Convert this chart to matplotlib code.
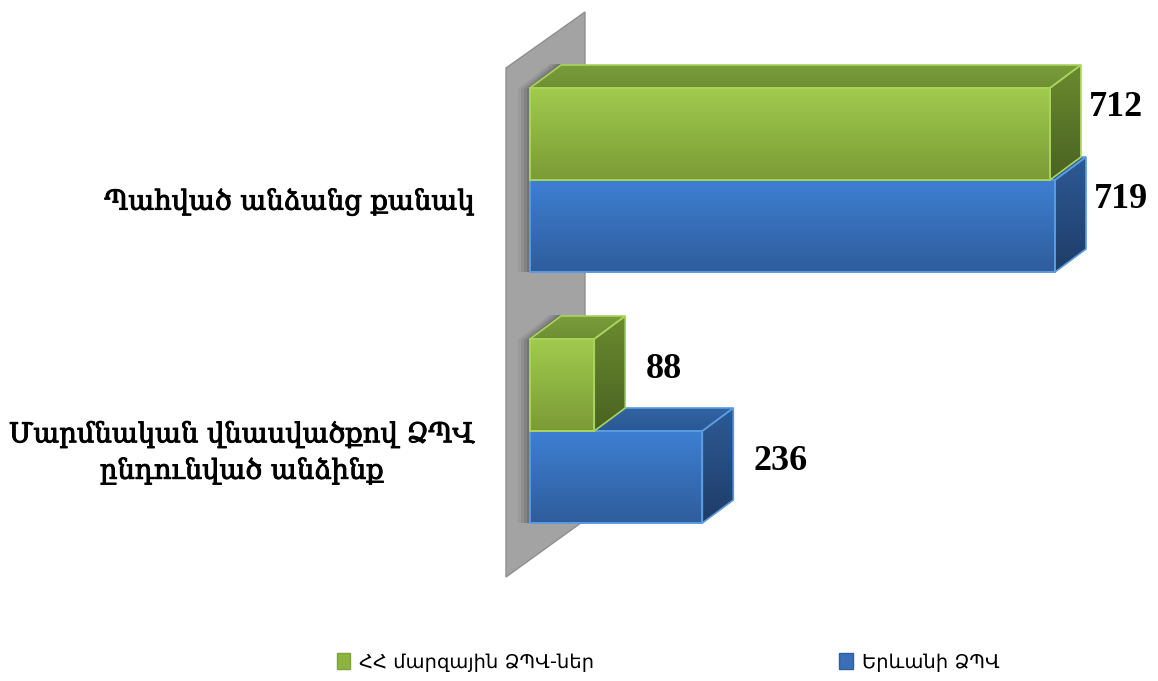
import numpy as np
import matplotlib.pyplot as plt
import matplotlib.patheffects as pe
from matplotlib.patches import Polygon, Patch
from matplotlib.colors import LinearSegmentedColormap

categories = ["Պահված անձանց քանակ", "Մարմնական վնասվածքով ՁՊՎ\nընդունված անձինք"]
series_names = ["ՀՀ մարզային ՁՊՎ-ներ", "Երևանի ՁՊՎ"]
regional = [712, 88]
yerevan = [719, 236]

W, H = 1158, 681
fig = plt.figure(figsize=(W / 100, H / 100), dpi=100)
ax = fig.add_axes([0, 0, 1, 1])

# x in data units, y in screen-like units (0 at top)
px = 525 / 719.0          # pixels per unit on x
x0 = 530                  # pixel where value 0 sits
ax.set_xlim(-x0 / px, (W - x0) / px)
ax.set_ylim(H, 0)
ax.axis("off")

dx = 31 / px              # depth offset in x units
dy = 23                   # depth offset in y units
bar_h = 92
centers = [180, 431]      # boundary between the two bars of a group
label_shift = [-26, -15]
label_gap = [8, 20]

def grad(c_top, c_bot):
    return LinearSegmentedColormap.from_list("g", [c_top, c_bot])

def face(poly_pts, c_top, c_bot, z, edge):
    pts = np.array(poly_pts)
    poly = Polygon(pts, closed=True, facecolor="none", edgecolor=edge, lw=1.2, zorder=z + 0.5)
    ax.add_patch(poly)
    img = np.linspace(0, 1, 64).reshape(-1, 1)
    im = ax.imshow(img, cmap=grad(c_top, c_bot), aspect="auto", origin="upper",
                   extent=[pts[:, 0].min(), pts[:, 0].max(), pts[:, 1].max(), pts[:, 1].min()],
                   zorder=z, interpolation="bilinear")
    im.set_clip_path(Polygon(pts, closed=True, transform=ax.transData))

# back wall
wl = -24 / px
wall = Polygon([(wl, 68), (wl + 79 / px, 12), (wl + 79 / px, 520), (wl, 577)],
               closed=True, facecolor="#a3a3a3", edgecolor="#8f8f8f", lw=1, zorder=1)
ax.add_patch(wall)

# soft shadows of the bars on the wall
for c in centers:
    top = c - bar_h - dy
    bot = c + bar_h
    for k, a in zip([12, 9, 6, 3], [0.07, 0.09, 0.12, 0.16]):
        sh = Polygon([(-k / px, top + dy + 1), (dx - k / px, top - 1),
                      (dx, top - 1), (dx, bot - dy), (0, bot), (-k / px, bot)],
                     closed=True, facecolor="#2a2a2a", edgecolor="none", alpha=a, zorder=1.5)
        ax.add_patch(sh)

styles = {
    "green": dict(front=("#a0cb4d", "#7b9b36"), side=("#6a8a2e", "#4a6322"),
                  top=("#7a9c3a", "#6f8f33"), edge="#a9d45c"),
    "blue": dict(front=("#3e7fd2", "#2e5d9c"), side=("#2d5a94", "#1f3d68"),
                 top=("#3163a3", "#2b5895"), edge="#5b9be0"),
}

def draw_bar(v, yt, yb, st, z):
    s = styles[st]
    ax.barh((yt + yb) / 2, v, height=yb - yt, left=0, color="none",
            edgecolor=s["edge"], lw=1.2, zorder=z + 0.6)
    face([(0, yt), (v, yt), (v, yb), (0, yb)], *s["front"], z, s["edge"])
    face([(v, yt), (v + dx, yt - dy), (v + dx, yb - dy), (v, yb)], *s["side"], z, s["edge"])
    face([(0, yt), (dx, yt - dy), (v + dx, yt - dy), (v, yt)], *s["top"], z, s["edge"])

for i, c in enumerate(centers):
    draw_bar(yerevan[i], c, c + bar_h, "blue", 2 + i * 4)
    draw_bar(regional[i], c - bar_h, c, "green", 4 + i * 4)

serif = ["DejaVu Serif", "DejaVu Sans"]
heavy = [pe.withStroke(linewidth=0.7, foreground="black")]
for i, c in enumerate(centers):
    ax.text(regional[i] + dx + label_gap[i] / px, c - bar_h / 2 + label_shift[i], str(regional[i]),
            fontsize=26, family=["Liberation Serif"], weight="bold",
            va="center", ha="left", zorder=20)
    ax.text(yerevan[i] + dx + label_gap[i] / px, c + bar_h / 2 + label_shift[i], str(yerevan[i]),
            fontsize=26, family=["Liberation Serif"], weight="bold",
            va="center", ha="left", zorder=20)
    ax.text(-55 / px, c + 22, categories[i], fontsize=19.7, family=serif,
            ha="right", va="center", multialignment="center", linespacing=1.45,
            path_effects=heavy, zorder=20)

handles = [Patch(facecolor="#8db43e", edgecolor="#7ea33a"),
           Patch(facecolor="#3a6fb7", edgecolor="#2f5e9e")]
fig.legend(handles, series_names, loc="center", bbox_to_anchor=(668 / W, 1 - 662 / H),
           ncol=2, frameon=False, handlelength=0.7, handleheight=0.9,
           handletextpad=0.45, columnspacing=12.6, prop={"family": ["DejaVu Sans"], "size": 14})

fig.savefig("out.png", dpi=100)
